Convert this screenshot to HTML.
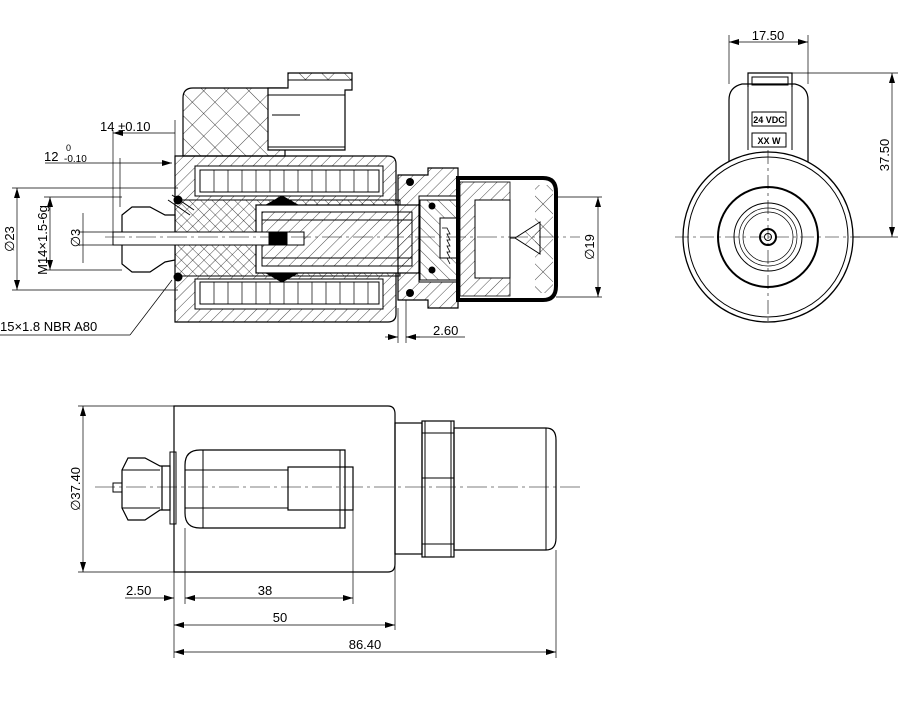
<!DOCTYPE html>
<html><head><meta charset="utf-8"><style>
html,body{margin:0;padding:0;background:#fff}
svg{display:block}
text{font-family:"Liberation Sans",sans-serif;fill:#000}
</style></head><body>
<svg width="900" height="711" viewBox="0 0 900 711" xmlns="http://www.w3.org/2000/svg">
<defs>
<pattern id="h" width="8" height="8" patternUnits="userSpaceOnUse" patternTransform="rotate(45)">
<line x1="0" y1="0" x2="0" y2="8" stroke="#000" stroke-width="0.7"/></pattern>
<pattern id="h2" width="8" height="8" patternUnits="userSpaceOnUse" patternTransform="rotate(-45)">
<line x1="0" y1="0" x2="0" y2="8" stroke="#000" stroke-width="0.7"/></pattern>
<pattern id="x" width="16" height="16" patternUnits="userSpaceOnUse" patternTransform="rotate(45)">
<path d="M0 0V16M0 0H16" stroke="#000" stroke-width="0.7" fill="none"/></pattern>
<marker id="a" markerWidth="10" markerHeight="6" refX="10" refY="3" orient="auto-start-reverse" markerUnits="userSpaceOnUse"><path d="M0 0L10 3L0 6z" fill="#000"/></marker>
</defs>
<g stroke="#000" fill="none" stroke-width="1">

<!-- ===== SECTION VIEW ===== -->
<path d="M183 98 Q183 88 193 88 H285 V156 H183 Z" fill="url(#x)" stroke-width="1.2"/>
<path d="M288 73 H352 V90 H345 V150 H268 V88 H288 Z" fill="#fff" stroke-width="1.2"/>
<path d="M288 73 H352 V80 H288Z" fill="url(#x)"/>
<rect x="268" y="95" width="77" height="52"/>
<line x1="272" y1="115" x2="300" y2="115"/>
<path d="M175 156 H388 Q396 156 396 164 V314 Q396 322 388 322 H175 Z" fill="url(#h)" stroke-width="1.2"/>
<rect x="195" y="166" width="188" height="30" fill="#fff"/>
<rect x="200" y="170" width="179" height="22" fill="#fff"/>
<rect x="195" y="279" width="188" height="30" fill="#fff"/>
<rect x="200" y="282" width="179" height="22" fill="#fff"/>
<g stroke-width="0.7">
<path d="M214 170V192M228 170V192M242 170V192M256 170V192M270 170V192M284 170V192M298 170V192M312 170V192M326 170V192M340 170V192M354 170V192M368 170V192"/>
<path d="M214 282V304M228 282V304M242 282V304M256 282V304M270 282V304M284 282V304M298 282V304M312 282V304M326 282V304M340 282V304M354 282V304M368 282V304"/>
</g>
<rect x="175" y="200" width="225" height="76" fill="url(#h2)"/>
<rect x="256" y="205" width="163" height="68" fill="#fff" stroke-width="1.2"/>
<rect x="262" y="212" width="150" height="54" fill="url(#h)"/>
<line x1="262" y1="220" x2="412" y2="220"/><line x1="262" y1="258" x2="412" y2="258"/>
<path d="M266 205 L282 196 L298 205 Z M266 273 L282 282 L298 273 Z" fill="#000"/>
<path d="M122 215 L132 207 H150 L165 215 L175 215 V260 L165 262 L150 272 H132 L122 264 Z" fill="#fff" stroke-width="1.2"/>
<rect x="113" y="232" width="191" height="13" fill="#fff"/>
<rect x="269" y="232" width="18" height="13" fill="#000"/>
<line x1="168" y1="200" x2="190" y2="215"/><line x1="172" y1="195" x2="194" y2="210"/>
<circle cx="178" cy="200" r="4" fill="#000"/><circle cx="178" cy="277" r="4" fill="#000"/>
<path d="M398 175 H428 V168 H458 V308 H428 V300 H398 Z" fill="url(#h)" stroke-width="1.2"/>
<rect x="419" y="196" width="39" height="86" fill="#fff"/>
<rect x="420" y="200" width="38" height="80" fill="url(#h2)"/>
<rect x="440" y="218" width="35" height="40" fill="#fff"/>
<path d="M442 228 h5 l3 6 h-3 l3 6 h-3 l3 6 h-3 l3 6 h-3 l3 6 h-3 l3 6 M460 228 l-3 6 h3 l-3 6 h3 l-3 6 h3 l-3 6 h3 l-3 6" stroke-width="0.8"/>
<circle cx="432" cy="206" r="3" fill="#000"/><circle cx="432" cy="270" r="3" fill="#000"/>
<circle cx="410" cy="182" r="3.5" fill="#000"/><circle cx="410" cy="293" r="3.5" fill="#000"/>
<path d="M458 178 H543 Q556 178 556 192 V286 Q556 300 543 300 H458 Z" fill="#fff" stroke-width="4"/>
<rect x="460" y="182" width="50" height="114" fill="url(#h)" stroke-width="0.8"/>
<rect x="475" y="200" width="35" height="78" fill="#fff"/>
<rect x="535" y="185" width="18" height="108" fill="url(#x)" stroke="none"/>
<path d="M515 238 L540 222 L540 254 Z" fill="url(#x)"/>
<line x1="510" y1="238" x2="515" y2="238"/>
<line x1="105" y1="237" x2="580" y2="237" stroke-width="0.6" stroke-dasharray="20 4 3 4"/>

<g stroke-width="0.7">
<line x1="113" y1="133" x2="175" y2="133" marker-start="url(#a)"/>
<line x1="113" y1="130" x2="113" y2="232"/>
<line x1="175" y1="120" x2="175" y2="160"/>
<line x1="45" y1="163" x2="172" y2="163" marker-end="url(#a)"/>
<line x1="120" y1="158" x2="120" y2="207"/>
<line x1="12" y1="188" x2="178" y2="188"/><line x1="12" y1="290" x2="178" y2="290"/>
<line x1="17" y1="188" x2="17" y2="290" marker-start="url(#a)" marker-end="url(#a)"/>
<line x1="44" y1="197" x2="122" y2="197"/><line x1="44" y1="270" x2="122" y2="270"/>
<line x1="50" y1="197" x2="50" y2="270" marker-start="url(#a)" marker-end="url(#a)"/>
<line x1="83" y1="213" x2="83" y2="263"/>
<line x1="78" y1="232" x2="113" y2="232"/><line x1="78" y1="245" x2="113" y2="245"/>
<line x1="556" y1="197" x2="602" y2="197"/><line x1="556" y1="297" x2="602" y2="297"/>
<line x1="598" y1="197" x2="598" y2="297" marker-start="url(#a)" marker-end="url(#a)"/>
<line x1="0" y1="335" x2="130" y2="335"/><line x1="130" y1="335" x2="172" y2="280"/>
<line x1="398" y1="308" x2="398" y2="343"/><line x1="406" y1="300" x2="406" y2="343"/>
<line x1="385" y1="337" x2="398" y2="337" marker-end="url(#a)"/>
<line x1="420" y1="337" x2="406" y2="337" marker-end="url(#a)"/>
<line x1="406" y1="337" x2="465" y2="337"/>
</g>

<!-- ===== BOTTOM VIEW ===== -->
<path d="M174 406 H388 Q395 406 395 414 V564 Q395 572 388 572 H174 Z" stroke-width="1.2"/>
<rect x="395" y="423" width="27" height="131" stroke-width="1.2"/>
<rect x="422" y="421" width="32" height="136" stroke-width="1.2"/>
<path d="M422 433H454M422 478H454M422 544H454M425 421V557M451 421V557"/>
<path d="M454 428 H546 Q556 428 556 440 V538 Q556 550 546 550 H454 Z" stroke-width="1.2"/>
<line x1="546" y1="428" x2="546" y2="550"/>
<path d="M200 450 H345 V528 H200 Q185 528 185 513 V465 Q185 450 200 450 Z" stroke-width="1.2"/>
<path d="M203 450V528M185 470H288M185 508H288M340 450V528"/>
<rect x="288" y="467" width="65" height="43" stroke-width="1.2"/>
<rect x="170" y="452" width="6" height="72"/>
<path d="M162 466 V510 M122 470 L128 458 H145 L160 466 H170 V510 H160 L145 520 H128 L122 508 Z" stroke-width="1.2"/>
<path d="M122 470H160M122 508H160"/>
<rect x="113" y="483" width="9" height="9"/>
<line x1="95" y1="487" x2="580" y2="487" stroke-width="0.6" stroke-dasharray="20 4 3 4"/>
<g stroke-width="0.7">
<line x1="78" y1="406" x2="174" y2="406"/><line x1="78" y1="572" x2="174" y2="572"/>
<line x1="83" y1="406" x2="83" y2="572" marker-start="url(#a)" marker-end="url(#a)"/>
<line x1="174" y1="572" x2="174" y2="658"/><line x1="185" y1="528" x2="185" y2="604"/>
<line x1="353" y1="510" x2="353" y2="604"/><line x1="395" y1="554" x2="395" y2="630"/>
<line x1="556" y1="550" x2="556" y2="658"/>
<line x1="125" y1="598" x2="174" y2="598" marker-end="url(#a)"/>
<line x1="185" y1="598" x2="353" y2="598" marker-start="url(#a)" marker-end="url(#a)"/>
<line x1="174" y1="625" x2="395" y2="625" marker-start="url(#a)" marker-end="url(#a)"/>
<line x1="174" y1="652" x2="556" y2="652" marker-start="url(#a)" marker-end="url(#a)"/>
</g>

<!-- ===== RIGHT VIEW ===== -->
<path d="M729 165 V100 Q729 87 742 84 H795 Q808 87 808 100 V165" stroke-width="1.2"/>
<path d="M748 87 V73 H792 V87" stroke-width="1.2"/>
<rect x="752" y="77" width="36" height="8"/>
<path d="M748 84 V150 M792 84 V150"/>
<circle cx="768" cy="237" r="85" fill="#fff" stroke-width="1.3"/>
<circle cx="768" cy="237" r="80"/>
<circle cx="768" cy="237" r="50" stroke-width="2"/>
<circle cx="768" cy="237" r="34"/>
<circle cx="768" cy="237" r="29" stroke-width="0.7"/>
<circle cx="768" cy="237" r="25" stroke-width="0.7"/>
<circle cx="768" cy="237" r="8" stroke-width="2"/>
<circle cx="768" cy="237" r="3.5"/>
<rect x="752" y="112" width="34" height="14" fill="#fff"/>
<rect x="752" y="133" width="34" height="14" fill="#fff"/>
<g stroke-width="0.6" stroke-dasharray="14 4 3 4">
<line x1="675" y1="237" x2="860" y2="237"/><line x1="768" y1="150" x2="768" y2="325"/>
</g>
<g stroke-width="0.7">
<line x1="729" y1="35" x2="729" y2="84"/><line x1="808" y1="35" x2="808" y2="84"/>
<line x1="729" y1="42" x2="808" y2="42" marker-start="url(#a)" marker-end="url(#a)"/>
<line x1="792" y1="73" x2="898" y2="73"/><line x1="853" y1="237" x2="898" y2="237"/>
<line x1="892" y1="73" x2="892" y2="237" marker-start="url(#a)" marker-end="url(#a)"/>
</g>
</g>

<g font-size="13">
<text x="100" y="131">14 ±0.10</text>
<text x="44" y="161">12</text>
<text x="66" y="151" font-size="9">0</text>
<text x="64" y="162" font-size="10">-0.10</text>
<text transform="translate(14,239) rotate(-90)" text-anchor="middle">∅23</text>
<text transform="translate(47,240) rotate(-90)" text-anchor="middle">M14×1.5-6g</text>
<text transform="translate(80,238) rotate(-90)" text-anchor="middle">∅3</text>
<text transform="translate(594,247) rotate(-90)" text-anchor="middle">∅19</text>
<text x="0" y="331">15×1.8 NBR A80</text>
<text x="433" y="335">2.60</text>
<text transform="translate(80,489) rotate(-90)" text-anchor="middle">∅37.40</text>
<text x="126" y="595">2.50</text>
<text x="265" y="595" text-anchor="middle">38</text>
<text x="280" y="622" text-anchor="middle">50</text>
<text x="365" y="649" text-anchor="middle">86.40</text>
<text x="768" y="40" text-anchor="middle">17.50</text>
<text transform="translate(889,155) rotate(-90)" text-anchor="middle">37.50</text>
<text x="769" y="123" text-anchor="middle" font-size="9" font-weight="bold">24 VDC</text>
<text x="769" y="144" text-anchor="middle" font-size="9" font-weight="bold">XX W</text>
</g>
</svg>
</body></html>
